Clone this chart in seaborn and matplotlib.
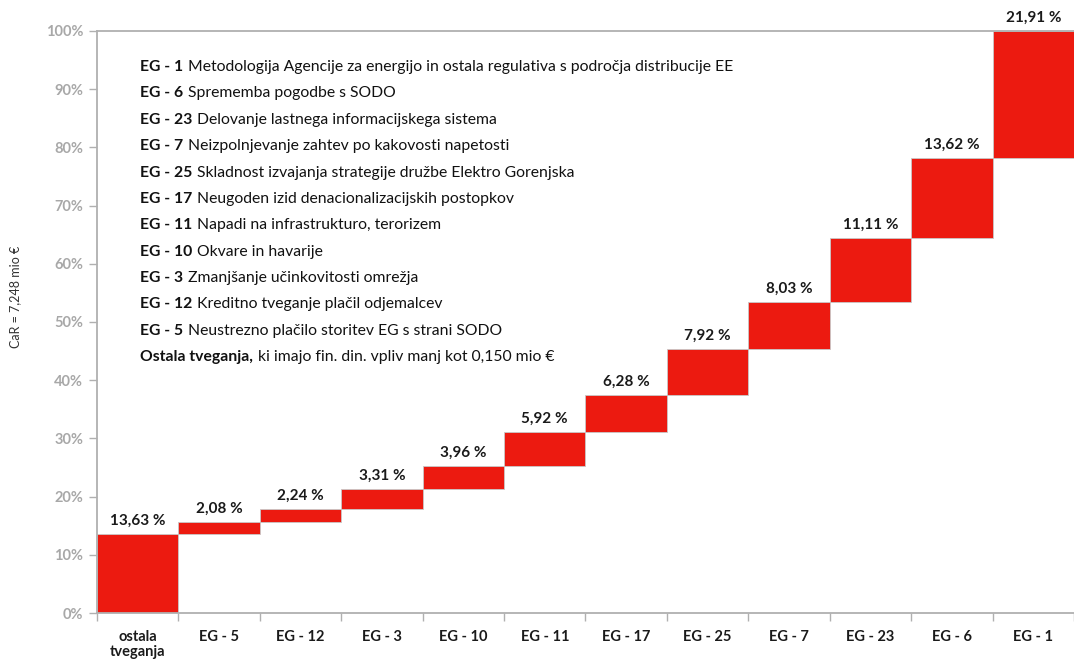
import numpy as np
import pandas as pd
import matplotlib
matplotlib.use("Agg")
import matplotlib.pyplot as plt
import seaborn as sns

# risk categories, left to right, and their share of CaR (%)
categories = ["ostala\ntveganja", "EG - 5", "EG - 12", "EG - 3", "EG - 10", "EG - 11",
              "EG - 17", "EG - 25", "EG - 7", "EG - 23", "EG - 6", "EG - 1"]
shares = [13.63, 2.08, 2.24, 3.31, 3.96, 5.92, 6.28, 7.92, 8.03, 11.11, 13.62, 21.91]

legend_codes = ["EG - 1", "EG - 6", "EG - 23", "EG - 7", "EG - 25", "EG - 17", "EG - 11",
                "EG - 10", "EG - 3", "EG - 12", "EG - 5", "Ostala tveganja,"]
legend_texts = ["Metodologija Agencije za energijo in ostala regulativa s področja distribucije EE",
                "Sprememba pogodbe s SODO",
                "Delovanje lastnega informacijskega sistema",
                "Neizpolnjevanje zahtev po kakovosti napetosti",
                "Skladnost izvajanja strategije družbe Elektro Gorenjska",
                "Neugoden izid denacionalizacijskih postopkov",
                "Napadi na infrastrukturo, terorizem",
                "Okvare in havarije",
                "Zmanjšanje učinkovitosti omrežja",
                "Kreditno tveganje plačil odjemalcev",
                "Neustrezno plačilo storitev EG s strani SODO",
                "ki imajo fin. din. vpliv manj kot 0,150 mio €"]

RED = "#ec1a10"
GREY = "#b0b0b0"

sns.set_style("white")
plt.rcParams["font.family"] = ["Lato", "DejaVu Sans"]

df = pd.DataFrame({"cat": categories, "share": shares})
df["base"] = df["share"].cumsum() - df["share"]

fig = plt.figure(figsize=(10.74, 6.59), dpi=100)
ax = fig.add_axes([0.0903, 0.0698, 0.9097, 0.8832])

sns.barplot(data=df, x="cat", y="share", bottom=df["base"].values, color=RED,
            width=1.0, edgecolor="#c8c8c8", linewidth=0.6, saturation=1, ax=ax)

ax.set_xlim(-0.5, len(categories) - 0.5)
ax.set_ylim(0, 100)

# value labels above each step
for i, row in df.iterrows():
    lab = f"{row['share']:.2f}".replace(".", ",") + " %"
    ax.annotate(lab, xy=(i, row["base"] + row["share"]), xytext=(0, 9.5),
                textcoords="offset points", ha="center", va="center",
                fontsize=11, fontweight="bold", color="#1a1a1a", annotation_clip=False)

# axes styling
for s in ["left", "top", "bottom"]:
    ax.spines[s].set_color(GREY)
    ax.spines[s].set_linewidth(1.3)
ax.spines["right"].set_visible(False)

ax.set_yticks(np.arange(0, 101, 10))
ax.set_yticklabels([f"{v}%" for v in range(0, 101, 10)])
ax.tick_params(axis="y", length=6, width=1, color=GREY, labelcolor="#a8a8a8",
               labelsize=10.5, left=True, pad=4)
for t in ax.get_yticklabels():
    t.set_fontweight("bold")

ax.set_xticks(np.arange(len(categories)))
ax.set_xticklabels(categories, fontweight="bold", fontsize=10.5, linespacing=1.1)
ax.set_xticks(np.arange(-0.5, len(categories), 1), minor=True)
ax.tick_params(axis="x", which="major", length=0, pad=12, labelcolor="#1a1a1a")
ax.tick_params(axis="x", which="minor", length=6, width=1, color=GREY, bottom=True)

ax.set_xlabel("")
ax.set_ylabel("")
fig.text(15 / 1074, 1 - 297 / 659, "CaR = 7,248 mio €", rotation=90, fontsize=9,
         color="#333333", ha="center", va="center")

# legend block in upper left
y0 = 0.938
dy = 0.0453
for k, (code, txt) in enumerate(zip(legend_codes, legend_texts)):
    t = ax.text(0.044, y0 - k * dy, code, transform=ax.transAxes, fontsize=11.3,
                fontweight="bold", color="#111111", va="center", ha="left")
    ax.annotate(txt, xy=(1, 0.5), xycoords=t, xytext=(3.5, 0), textcoords="offset points",
                fontsize=11.3, color="#111111", va="center", ha="left")

fig.savefig("out.png", dpi=100)
